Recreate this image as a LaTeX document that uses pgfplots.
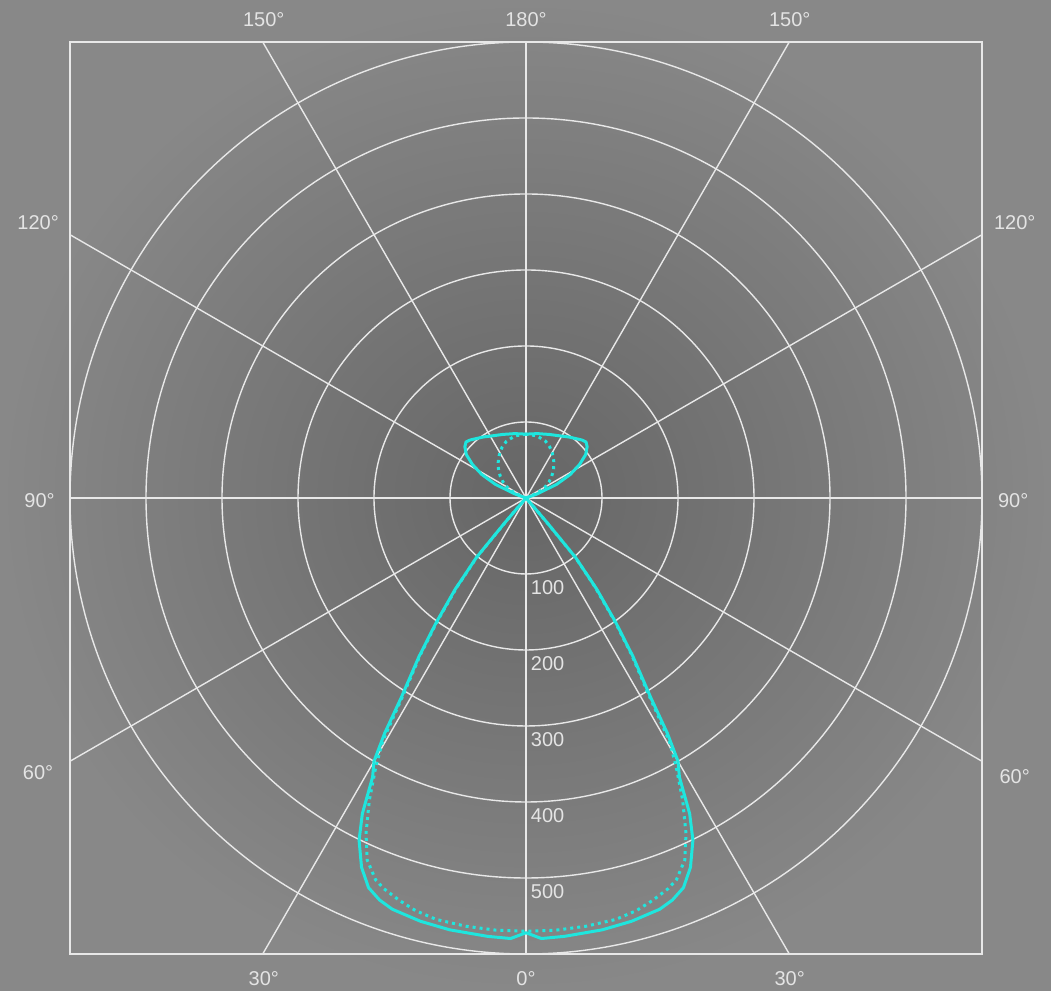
\documentclass[border=0pt]{standalone}
\usepackage{fontspec}
\setmainfont{Liberation Sans}
\usepackage{pgfplots}
\pgfplotsset{compat=1.18}
\usepackage{pgfplotstable}

\definecolor{bgin}{RGB}{102,102,102}
\definecolor{bgout}{RGB}{136,136,136}
\definecolor{curve}{RGB}{30,230,222}
\definecolor{gridc}{RGB}{232,232,232}
\definecolor{labc}{RGB}{228,228,228}
\tikzset{lab/.style={font=\fontsize{10}{12}\selectfont, text=labc, color=labc}}

% C0-C180 plane (solid): signed gamma angle t (deg, 0 = down), intensity I
\pgfplotstableread{
t I
-180 84
-170 86
-160 89
-150 94
-145 98
-140 102
-136 106
-133 108
-130 105
-126 97
-122 83
-118 66
-114 44
-110 15
-108 0
-41.2 0
-40.6 42
-39.8 102
-37.8 152
-35.8 202
-34 252
-32 310
-31 361
-30 400
-28.8 419
-27.4 468
-26 501
-24 532
-22 553
-20 563
-18 569
-14 574
-10 577
-5 579
-2 580
0 572
2 580
5 579
10 577
14 574
18 569
20 563
22 553
24 532
26 501
27.4 468
28.8 419
30 400
31 361
32 310
34 252
35.8 202
37.8 152
39.8 102
40.6 42
41.2 0
108 0
110 15
114 44
118 66
122 83
126 97
130 105
133 108
136 106
140 102
145 98
150 94
160 89
170 86
180 84
}\solidtab

% C90-C270 plane (dotted)
\pgfplotstableread{
t I
-180 84
-170 83
-161 79
-155 74
-150 69
-144 62
-140 57
-135 51
-130 44
-125 37
-120 29
-116 21
-112 10
-108 0
-41.2 0
-40.6 38
-39.8 100
-37.8 148
-35.8 198
-34 248
-32 303
-30.5 372
-29.2 405
-27.4 448
-25.5 489
-23.7 520
-21.5 540
-20 547
-17.5 555
-15 562
-12 567
-8 569
-4 570
0 570
4 570
8 569
12 567
15 562
17.5 555
20 547
21.5 540
23.7 520
25.5 489
27.4 448
29.2 405
30.5 372
32 303
34 248
35.8 198
37.8 148
39.8 100
40.6 38
41.2 0
108 0
112 10
116 21
120 29
125 37
130 44
135 51
140 57
144 62
150 69
155 74
161 79
170 83
180 84
}\dottedtab

\begin{document}
\begin{tikzpicture}
\shade[inner color=bgin, outer color=bgout] (-35pt,-18.5pt) rectangle (490.5pt,477pt);
\begin{axis}[
  at={(0,0)}, anchor=south west,
  width=456pt, height=456pt, scale only axis,
  xmin=-600, xmax=600, ymin=-600, ymax=600,
  xtick=\empty, ytick=\empty,
  axis line style={gridc, line width=0.9pt},
  clip=false,
]
% grid circles
\foreach \r in {100,200,300,400,500,600}{
  \edef\tmp{\noexpand\draw[gridc, line width=0.7pt] (axis cs:0,0) circle[radius=\r];}\tmp
}
% radial lines
\draw[gridc, line width=0.7pt] (axis cs:0,-600) -- (axis cs:0,600);
\draw[gridc, line width=0.7pt] (axis cs:-600,0) -- (axis cs:600,0);
\draw[gridc, line width=0.7pt] (axis cs:-346.41,-600) -- (axis cs:346.41,600);
\draw[gridc, line width=0.7pt] (axis cs:346.41,-600) -- (axis cs:-346.41,600);
\draw[gridc, line width=0.7pt] (axis cs:-600,-346.41) -- (axis cs:600,346.41);
\draw[gridc, line width=0.7pt] (axis cs:600,-346.41) -- (axis cs:-600,346.41);
% curves
\addplot[curve, line width=1.5pt, line join=round, no markers]
  table[x expr={\thisrow{I}*sin(\thisrow{t})}, y expr={-\thisrow{I}*cos(\thisrow{t})}] {\solidtab};
\addplot[curve, line width=1.5pt, dash pattern=on 1.5pt off 2pt, no markers]
  table[x expr={\thisrow{I}*sin(\thisrow{t})}, y expr={-\thisrow{I}*cos(\thisrow{t})}] {\dottedtab};
% radial labels
\node[lab, anchor=west, inner xsep=0pt] at (axis cs:6,-118) {100};
\node[lab, anchor=west, inner xsep=0pt] at (axis cs:6,-218) {200};
\node[lab, anchor=west, inner xsep=0pt] at (axis cs:6,-318) {300};
\node[lab, anchor=west, inner xsep=0pt] at (axis cs:6,-418) {400};
\node[lab, anchor=west, inner xsep=0pt] at (axis cs:6,-518) {500};
% angle labels
\node[lab] at (axis cs:-345,630) {150°};
\node[lab] at (axis cs:0,630) {180°};
\node[lab] at (axis cs:347,630) {150°};
\node[lab] at (axis cs:-642,362) {120°};
\node[lab] at (axis cs:643,362) {120°};
\node[lab] at (axis cs:-640,-4) {90°};
\node[lab] at (axis cs:641,-4) {90°};
\node[lab] at (axis cs:-642,-362) {60°};
\node[lab] at (axis cs:643,-366) {60°};
\node[lab] at (axis cs:-345,-633) {30°};
\node[lab] at (axis cs:0,-633) {0°};
\node[lab] at (axis cs:347,-633) {30°};
\end{axis}
\end{tikzpicture}
\end{document}
